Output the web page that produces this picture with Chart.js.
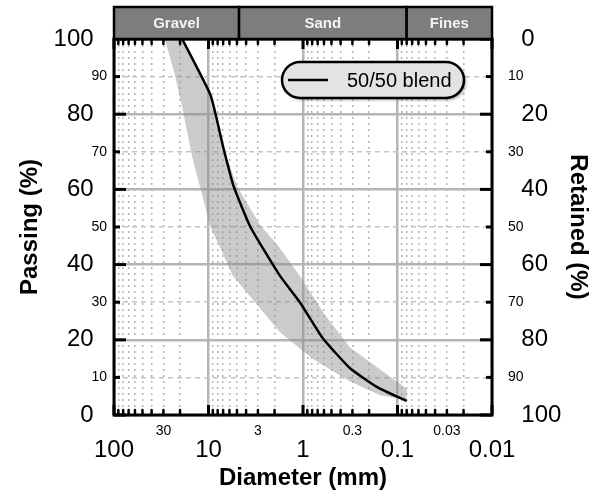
<!DOCTYPE html>
<html lang="en">
<head>
  <meta charset="UTF-8" />
  <title>Gradation - 50/50 blend</title>
  <script src="https://cdn.jsdelivr.net/npm/chart.js"></script>
  <style>
    html, body { margin: 0; padding: 0; background: #fff; }
    canvas { display: block; }
  </style>
</head>
<body>
  <canvas id="gradation" width="592" height="497"></canvas>

  <script>
    // --- values ---
    const blendLabel = "50/50 blend";
    const blendSize = [19, 9.5, 6.95, 5.45, 3.6, 1.75, 1.08, 0.62, 0.32, 0.166, 0.08];
    const blendPassing = [100, 85, 71, 61, 50, 37, 30, 20.5, 12.5, 7.5, 3.7];

    // grey envelope: fine side and coarse side
    const fineEdgeSize = [19, 9.5, 6.95, 4.96, 2.84, 1.83, 1.08, 0.6, 0.32, 0.08];
    const fineEdgePassing = [100, 85, 71, 60.7, 50.5, 45, 37, 27, 18, 7];
    const coarseEdgeSize = [29, 23, 19, 14.7, 9.5, 5.5, 1.75, 0.8, 0.32, 0.155, 0.08];
    const coarseEdgePassing = [100, 91, 82, 68, 50, 37, 22, 15, 9, 5.3, 4];

    // soil classes in the strip on top
    const zoneNames = ["Gravel", "Sand", "Fines"];
    const zoneEdges = [100, 4.75, 0.08, 0.01];

    // ticks
    const decades = [100, 10, 1, 0.1, 0.01];
    const decadeLabels = ["100", "10", "1", "0.1", "0.01"];
    const subSteps = [2, 3, 4, 5, 6, 7, 8, 9];
    const halfDecades = [30, 3, 0.3, 0.03];
    const halfDecadeLabels = ["30", "3", "0.3", "0.03"];
    const pctMajor = [0, 20, 40, 60, 80, 100];
    const pctMinor = [10, 30, 50, 70, 90];

    const FONT = "'Liberation Sans', Arial, Helvetica, sans-serif";
    Chart.defaults.font.family = FONT;
    Chart.defaults.color = "#000";

    const subTicks = [];
    decades.slice(1).forEach(d => subSteps.forEach(m => subTicks.push(d * m)));
    const pctAll = pctMajor.concat(pctMinor).sort((a, b) => a - b);

    const FIG = "\u2007"; // figure space: pushes the big labels off the axis
    const isMajorPct = v => pctMajor.includes(v);
    const same = (a, b) => Math.abs(a - b) <= Math.abs(b) * 1e-6;
    const setTicks = values => scale => { scale.ticks = values.map(v => ({ value: v })); };
    const tickIsMajor = c => !c.tick || isMajorPct(c.tick.value);
    const pctFont = c => ({ size: tickIsMajor(c) ? 24 : 14 });

    // envelope as one closed outline: fine edge down, coarse edge back up
    const bandOutline = fineEdgeSize.map((s, i) => ({ x: s, y: fineEdgePassing[i] }))
      .concat(coarseEdgeSize.map((s, i) => ({ x: s, y: coarseEdgePassing[i] })).reverse());

    const noBorder = { display: false };

    const decor = {
      id: "decor",
      afterDraw(chart) {
        const { ctx, chartArea: a, scales } = chart;
        const sx = scales.x, sy = scales.y;
        const mark = (x1, y1, x2, y2, w) => {
          ctx.lineWidth = w;
          ctx.beginPath();
          ctx.moveTo(x1, y1);
          ctx.lineTo(x2, y2);
          ctx.stroke();
        };
        ctx.save();
        ctx.strokeStyle = "#000";

        // inward tick marks
        ctx.lineCap = "round";
        subTicks.forEach(v => {
          const px = sx.getPixelForValue(v);
          mark(px, a.bottom, px, a.bottom - 5, 2.5);
          mark(px, a.top, px, a.top + 5, 2.5);
        });
        ctx.lineCap = "butt";
        decades.forEach(v => {
          const px = sx.getPixelForValue(v);
          mark(px, a.bottom, px, a.bottom - 10, 3);
          mark(px, a.top, px, a.top + 10, 3);
        });
        pctMinor.forEach(v => {
          const py = sy.getPixelForValue(v);
          mark(a.left, py, a.left + 6, py, 3);
          mark(a.right, py, a.right - 6, py, 3);
        });
        pctMajor.forEach(v => {
          const py = sy.getPixelForValue(v);
          mark(a.left, py, a.left + 12, py, 3);
          mark(a.right, py, a.right - 12, py, 3);
        });

        // frame
        ctx.lineWidth = 3;
        ctx.strokeRect(a.left, a.top, a.width, a.height);

        // class strip
        const top = 7;
        zoneNames.forEach((name, i) => {
          const x1 = sx.getPixelForValue(zoneEdges[i]);
          const x2 = sx.getPixelForValue(zoneEdges[i + 1]);
          ctx.fillStyle = "#7d7d7d";
          ctx.fillRect(x1, top, x2 - x1, a.top - top);
          ctx.lineWidth = 2.5;
          ctx.strokeRect(x1, top, x2 - x1, a.top - top);
          ctx.fillStyle = "#f4f4f4";
          ctx.font = "bold 15px " + FONT;
          ctx.textAlign = "center";
          ctx.textBaseline = "middle";
          ctx.fillText(name, (x1 + x2) / 2, (top + a.top) / 2 + 1);
        });

        // legend pill
        const lx = 282, ly = 62, lw = 182, lh = 36, r = lh / 2;
        ctx.beginPath();
        ctx.moveTo(lx + r, ly);
        ctx.lineTo(lx + lw - r, ly);
        ctx.arc(lx + lw - r, ly + r, r, -Math.PI / 2, Math.PI / 2);
        ctx.lineTo(lx + r, ly + lh);
        ctx.arc(lx + r, ly + r, r, Math.PI / 2, Math.PI * 1.5);
        ctx.closePath();
        ctx.shadowColor = "rgba(0,0,0,0.35)";
        ctx.shadowOffsetX = 2;
        ctx.shadowOffsetY = 2;
        ctx.shadowBlur = 3;
        ctx.fillStyle = "#e3e3e3";
        ctx.fill();
        ctx.shadowColor = "transparent";
        ctx.lineWidth = 2.5;
        ctx.stroke();
        mark(lx + 6, ly + lh / 2, lx + 46, ly + lh / 2, 2.5);
        ctx.fillStyle = "#000";
        ctx.font = "20px " + FONT;
        ctx.textAlign = "left";
        ctx.textBaseline = "middle";
        ctx.fillText(chart.data.datasets[0].label, lx + 65, ly + lh / 2 + 1);

        ctx.restore();
      }
    };

    new Chart(document.getElementById("gradation"), {
      type: "line",
      data: {
        datasets: [
          {
            label: blendLabel,
            data: blendSize.map((s, i) => ({ x: s, y: blendPassing[i] })),
            borderColor: "#000",
            borderWidth: 2.5,
            pointRadius: 0,
            tension: 0.15,
            fill: false,
            order: 0
          },
          {
            label: "envelope",
            data: bandOutline,
            borderWidth: 0,
            borderColor: "rgba(0,0,0,0)",
            backgroundColor: "rgba(140,140,140,0.45)",
            pointRadius: 0,
            tension: 0,
            fill: "shape",
            order: 1
          }
        ]
      },
      options: {
        responsive: false,
        animation: false,
        layout: { padding: { top: 39, left: 0, right: 0, bottom: 0 } },
        plugins: { legend: { display: false }, tooltip: { enabled: false } },
        scales: {
          x: {
            type: "logarithmic",
            reverse: true,
            min: 0.01,
            max: 100,
            position: "bottom",
            weight: 1,
            afterBuildTicks: setTicks(decades),
            afterFit: s => { s.height = 59; },
            ticks: {
              autoSkip: false, maxRotation: 0, minRotation: 0, padding: -2,
              font: { size: 24 },
              callback: v => decadeLabels[decades.findIndex(d => same(v, d))]
            },
            grid: { color: "#b5b5b5", lineWidth: 2.5, drawTicks: false },
            border: noBorder,
            title: {
              display: true, text: "Diameter (mm)",
              font: { size: 24, weight: "bold", lineHeight: 1.2 },
              padding: { top: 0, bottom: 4 }
            }
          },
          xSub: {
            type: "logarithmic",
            axis: "x",
            reverse: true,
            min: 0.01,
            max: 100,
            position: "bottom",
            weight: 0,
            afterBuildTicks: setTicks(subTicks),
            afterFit: s => { s.height = 23; },
            ticks: {
              autoSkip: false, maxRotation: 0, minRotation: 0, padding: 8,
              font: { size: 14 },
              callback: v => {
                const k = halfDecades.findIndex(h => same(v, h));
                return k < 0 ? "" : halfDecadeLabels[k];
              }
            },
            grid: { color: "#b5b5b5", lineWidth: 1.5, drawTicks: false },
            border: { display: false, dash: [2, 4] }
          },
          y: {
            type: "linear",
            min: 0,
            max: 100,
            position: "left",
            weight: 1,
            afterBuildTicks: setTicks(pctAll),
            afterFit: s => { s.width = 114; },
            ticks: {
              autoSkip: false, padding: 7, font: pctFont,
              callback: v => isMajorPct(v) ? v + FIG : String(v)
            },
            grid: {
              color: c => tickIsMajor(c) ? "#b5b5b5" : "rgba(0,0,0,0)",
              lineWidth: 2.5, drawTicks: false
            },
            border: noBorder,
            title: {
              display: true, text: "Passing (%)",
              font: { size: 24, weight: "bold", lineHeight: 1.2 },
              padding: { top: 16, bottom: 0 }
            }
          },
          yDash: {
            type: "linear",
            axis: "y",
            min: 0,
            max: 100,
            position: "left",
            weight: 0,
            afterBuildTicks: setTicks(pctMinor),
            afterFit: s => { s.width = 0; },
            ticks: { display: false },
            grid: { color: "#c4c4c4", lineWidth: 1.5, drawTicks: false },
            border: { display: false, dash: [5, 4] }
          },
          yRight: {
            type: "linear",
            axis: "y",
            min: 0,
            max: 100,
            reverse: true,
            position: "right",
            afterBuildTicks: setTicks(pctAll),
            afterFit: s => { s.width = 100; },
            ticks: {
              autoSkip: false, padding: 8, font: pctFont,
              callback: v => isMajorPct(v) ? FIG + v : String(v)
            },
            grid: { display: false },
            border: noBorder,
            title: {
              display: true, text: "Retained (%)",
              font: { size: 24, weight: "bold", lineHeight: 1.2 },
              padding: { top: 0, bottom: 0 }
            }
          }
        }
      },
      plugins: [decor]
    });
  </script>
</body>
</html>
